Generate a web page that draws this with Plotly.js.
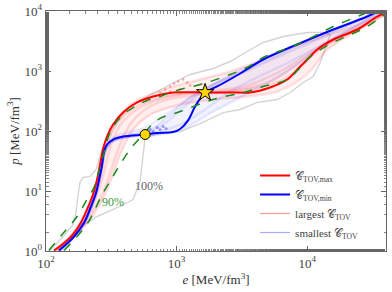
<!DOCTYPE html>
<html><head><meta charset="utf-8">
<script src="https://cdn.plot.ly/plotly-3.0.1.min.js"></script>
<style>html,body{margin:0;padding:0;background:#fff}#plot{width:392px;height:292px}</style>
</head><body><div id="plot"></div>
<script>
// ---- data (e, p in MeV/fm^3) ----
const maxE = [115,156,185,206,229,246,259,273,293,326,389,498,661,940,1652,3068,3658,5202,7025,8836,10544,11938,15851,24150,34370,41000];
const maxP = [1.02,1.74,2.99,4.92,8.74,15.5,27.6,49.2,80.9,128,203,299,376,438,438,438,438,531,721,1189,1745,2282,3350,4917,8098,9811];
const minE = [126,164,196,221,242,255,269,278,293,326,389,574,710,940,1064,1225,1386,1652,2043,3068,4601,8379,15851,28830,41000];
const minP = [1.02,1.74,2.99,5.52,9.44,15.5,27.6,45.5,59.6,72.1,80.9,87.4,93,96,108,150,256,438,552,909,1555,2765,4917,8098,11890];
const g90hiE = [105,137,173,206,233,250,273,309,369,464,594,748,940,1514,1713,2569,3470,4601,8379,15851,28830,40100];
const g90hiP = [1.02,2.03,3.76,7.21,11.4,18.8,37.6,94.4,168,246,322,376,455,596,643,875,1143,1679,2765,5517,9441,12830];
const g90loE = [137,173,210,237,269,309,350,440,553,627,748,1064,1905,3470,4601,7025,8836,10544,15851,28830,41000];
const g90loP = [1.02,1.74,2.99,4.92,8.74,14.4,22.8,49.2,87.4,119,162,211,335,455,552,721,1143,1745,2985,5517,9441];
const g100hiE = [107,140,161,170,176,182,192,217,242,255,273,326,440,594,846,1269,1905,2570,3470,4601,6549,10000,13270,15010];
const g100hiP = [1.02,1.88,2.76,4.55,8.74,13.9,16.8,17.4,22.8,33.5,55.2,119,256,376,552,875,1101,1440,2113,2985,3758,4382,4382,4058];
const g100loE = [15010,14230,12580,11118,9318,7409,5890,4140,3067,2272,1514,1064,747,574,553,525,464,369,246,164,124];
const g100loP = [4058,2985,1386,810,643,438,335,299,228,203,133,98.1,90.9,78,40.6,14.4,7.21,5.52,3.76,2.11,1.02];
const lgE1 = [117,158,192,217,242,259,283,326,403,525,747,1269,2570,4601,6549,8839,11928,20260,41030];
const lgP1 = [1.02,1.88,3.35,5.96,11.4,22.8,49.2,106,188,276,362,422,455,552,721,1143,2113,4382,9811];
const lgE2 = [124,173,221,259,293,326,369,440,574,846,1514,3067,5206,7409,10544,15820,28830,41030];
const lgP2 = [1.02,2.03,4.06,7.21,13.9,27.6,59.6,128,228,335,406,492,668,1059,1884,3102,5957,9441];
const lgE3 = [117,161,196,225,250,269,293,350,440,627,892,1514,2570,4601,7409,12580,22520,41030];
const lgP3 = [1.02,1.88,3.35,6.43,13.9,27.6,59.6,155,276,406,531,721,982,1555,2463,3617,5517,9811];
const lgE4 = [128,182,237,283,326,369,464,627,1064,1905,3470,5890,8839,11118,14230,21360,41030];
const lgP4 = [1.02,2.11,4.38,8.74,18.8,40.6,106,188,276,335,376,455,721,1143,2282,4058,9085];
const lgE5 = [121,167,206,237,269,293,326,389,525,817,1514,3067,4601,7027,10000,15820,28830,41030];
const lgP5 = [1.02,1.96,3.76,7.21,15.5,33.5,72.1,144,246,362,455,531,721,1143,1884,3350,6190,9811];
const smE1 = [126,164,196,221,242,259,273,293,338,440,627,846,1122,1653,2570,4601,8381,15820,41030];
const smP1 = [1.02,1.74,2.99,5.52,9.44,16.8,33.5,55.2,72.1,84.1,98.1,144,246,492,841,1555,2765,4917,11440];
const smE2 = [126,164,199,225,246,264,278,309,403,627,892,1269,1905,3470,6549,12580,25480,41030];
const smP2 = [1.02,1.74,3.10,5.96,10.6,21.1,40.6,64.3,84.1,106,188,362,596,1059,2033,3758,7217,11440];
const smE3 = [126,167,199,225,246,264,283,320,440,684,1064,1653,2570,4601,7409,11118,17900,41030];
const smP3 = [1.02,1.81,3.10,5.73,10.6,21.1,45.5,66.8,80.9,94.4,128,228,455,875,1440,2282,4058,11010];
const smE4 = [124,161,196,221,242,259,273,299,369,574,892,1386,2154,3658,6549,11118,21360,41030];
const smP4 = [1.02,1.74,3.10,5.73,10.6,21.1,40.6,64.3,87.4,114,211,406,668,1059,1884,3102,5957,11440];
const smE5 = [126,167,203,229,250,269,283,320,481,747,1162,1905,3067,5206,8381,12580,21360,41030];
const smP5 = [1.02,1.81,3.22,5.96,11.4,22.8,45.5,66.8,80.9,87.4,114,211,362,668,1283,2463,4917,11010];
const redDotE = [747,817,892,957,1027,1122,1204,1064,892,1269];
const redDotP = [438,492,552,619,668,721,643,492,455,573];
const blueDotE = [627,661,709,747,788,831];
const blueDotP = [106,98.1,114,106,119,110];
const circleE = [574], circleP = [87.4];
const starE = [1652], starP = [438];
const tickX = [100,1000,10000], tickXText = ['10<sup>2</sup>','10<sup>3</sup>','10<sup>4</sup>'];
const tickY = [1,10,100,1000,10000], tickYText = ['10<sup>0</sup>','10<sup>1</sup>','10<sup>2</sup>','10<sup>3</sup>','10<sup>4</sup>'];
const labels = ['𝒞<sub>TOV,max</sub>','𝒞<sub>TOV,min</sub>','largest 𝒞<sub>TOV</sub>','smallest 𝒞<sub>TOV</sub>'];

// ---- traces ----
const traces = [];
const gray = '#d4d4d4';
traces.push({x:g100hiE,y:g100hiP,mode:'lines',line:{color:gray,width:1.4},showlegend:false,hoverinfo:'skip'});
traces.push({x:g100loE,y:g100loP,mode:'lines',line:{color:gray,width:1.4},showlegend:false,hoverinfo:'skip'});
// soft bands built from the outer faint curves
traces.push({x:lgE3.concat(lgE4.slice().reverse()),y:lgP3.concat(lgP4.slice().reverse()),mode:'lines',fill:'toself',
  fillcolor:'rgba(255,80,80,0.09)',line:{width:0,color:'rgba(0,0,0,0)'},showlegend:false,hoverinfo:'skip'});
traces.push({x:smE2.concat(smE5.slice().reverse()),y:smP2.concat(smP5.slice().reverse()),mode:'lines',fill:'toself',
  fillcolor:'rgba(80,80,255,0.07)',line:{width:0,color:'rgba(0,0,0,0)'},showlegend:false,hoverinfo:'skip'});
const lg = [[lgE1,lgP1],[lgE2,lgP2],[lgE3,lgP3],[lgE4,lgP4],[lgE5,lgP5]];
const sm = [[smE1,smP1],[smE2,smP2],[smE3,smP3],[smE4,smP4],[smE5,smP5]];
lg.forEach(d=>traces.push({x:d[0],y:d[1],mode:'lines',line:{color:'rgba(255,40,40,0.14)',width:2.5,shape:'spline'},showlegend:false,hoverinfo:'skip'}));
sm.forEach(d=>traces.push({x:d[0],y:d[1],mode:'lines',line:{color:'rgba(40,40,255,0.1)',width:2.5,shape:'spline'},showlegend:false,hoverinfo:'skip'}));
traces.push({x:redDotE,y:redDotP,mode:'markers',marker:{color:'rgba(255,60,60,0.45)',size:2.5},showlegend:false,hoverinfo:'skip'});
traces.push({x:blueDotE,y:blueDotP,mode:'markers',marker:{color:'rgba(40,40,255,0.45)',size:3},showlegend:false,hoverinfo:'skip'});
traces.push({x:maxE,y:maxP,mode:'lines',name:labels[0],legendrank:1,line:{color:'#ff0000',width:2,shape:'spline'}});
traces.push({x:minE,y:minP,mode:'lines',name:labels[1],legendrank:2,line:{color:'#0000ff',width:2,shape:'spline'}});
traces.push({x:g90hiE,y:g90hiP,mode:'lines',line:{color:'#1a8a1a',width:1.5,dash:'dash',shape:'spline'},showlegend:false});
traces.push({x:g90loE,y:g90loP,mode:'lines',line:{color:'#1a8a1a',width:1.5,dash:'dash',shape:'spline'},showlegend:false});
traces.push({x:[null],y:[null],mode:'lines',name:labels[2],legendrank:3,line:{color:'#ff9a9a',width:1.2}});
traces.push({x:[null],y:[null],mode:'lines',name:labels[3],legendrank:4,line:{color:'#a8a8ff',width:1.2}});
traces.push({x:circleE,y:circleP,mode:'markers',marker:{color:'#ffd700',size:10,line:{color:'#000',width:1}},showlegend:false});
traces.push({x:starE,y:starP,mode:'markers',marker:{symbol:'star',color:'#ffd700',size:13,line:{color:'#000',width:1}},showlegend:false});

const font = {family:'Liberation Serif, DejaVu Serif, serif',color:'#333',size:13};
const axisCommon = {type:'log',showgrid:false,zeroline:false,showline:true,linecolor:'#666',linewidth:1.3,mirror:'ticks',ticks:'inside',ticklen:5,tickcolor:'#666',tickwidth:1,
  minor:{ticks:'inside',ticklen:2.5,tickcolor:'#666',tickwidth:0.8,showgrid:false},tickfont:{size:13,color:'#444'}};
const layout = {
  width:392,height:292,margin:{l:46,r:6,t:11,b:41},paper_bgcolor:'#fff',plot_bgcolor:'#fff',font:font,
  xaxis:Object.assign({},axisCommon,{range:[2,Math.log10(40100)],tickvals:tickX,ticktext:tickXText,
    title:{text:'<i>e</i> [MeV/fm<sup>3</sup>]',standoff:4,font:{size:13,color:'#333'}}}),
  yaxis:Object.assign({},axisCommon,{range:[0,4],tickvals:tickY,ticktext:tickYText,
    title:{text:'<i>p</i> [MeV/fm<sup>3</sup>]',standoff:2,font:{size:13,color:'#333'}}}),
  legend:{x:0.615,y:0.375,xanchor:'left',yanchor:'top',bgcolor:'rgba(0,0,0,0)',font:{size:11,color:'#444'},tracegroupgap:0,itemwidth:30},
  annotations:[
    {x:Math.log10(616),y:Math.log10(11.9),text:'100%',showarrow:false,font:{size:12,color:'#666'}},
    {x:Math.log10(326),y:Math.log10(6.68),text:'90%',showarrow:false,font:{size:12,color:'#3a9a3a'}}
  ],
  showlegend:true
};
Plotly.newPlot('plot',traces,layout,{staticPlot:true});
</script></body></html>
